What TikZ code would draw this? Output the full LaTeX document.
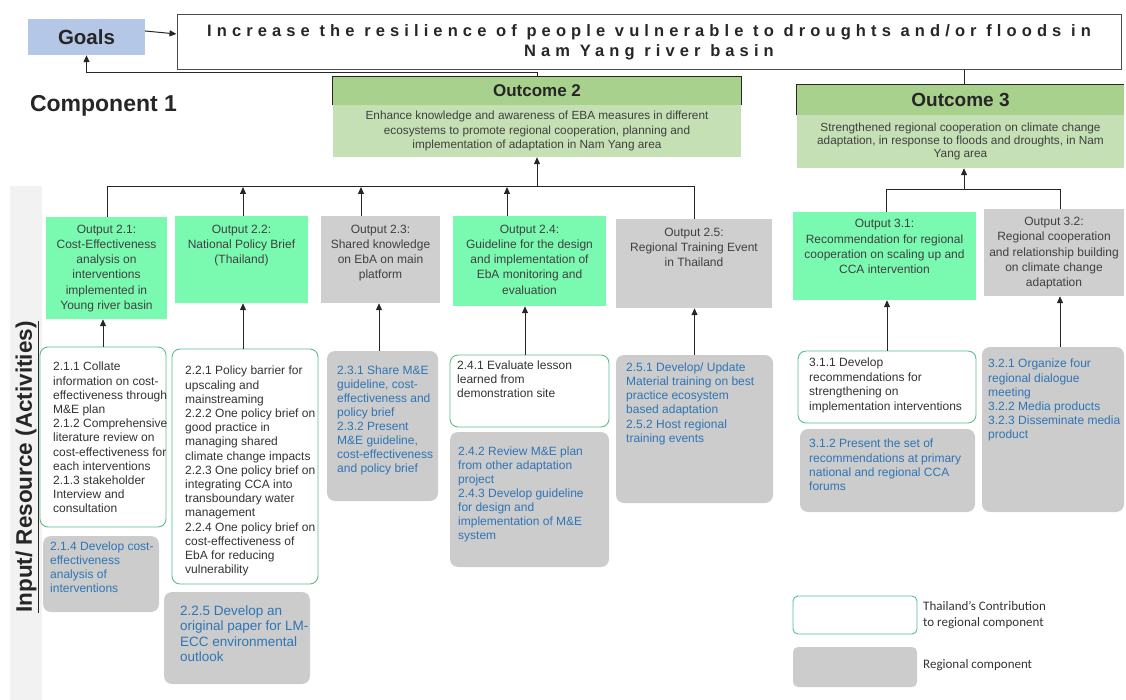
\documentclass[tikz,border=0pt]{standalone}
\usepackage{fontspec}
\setmainfont{Liberation Sans}
\newfontfamily\goalfont[LetterSpace=31]{Liberation Sans}
\newfontfamily\legendfont{Carlito}
\usetikzlibrary{arrows.meta}

\definecolor{goalsblue}{RGB}{180,199,231}
\definecolor{headgreen}{RGB}{169,209,142}
\definecolor{bodygreen}{RGB}{197,224,180}
\definecolor{mint}{RGB}{122,250,176}
\definecolor{outgray}{RGB}{208,207,207}
\definecolor{actgray}{RGB}{204,204,204}
\definecolor{actline}{RGB}{90,190,140}
\definecolor{actblue}{RGB}{46,117,182}
\definecolor{stripgray}{RGB}{242,242,242}
\definecolor{textgray}{RGB}{64,64,64}

\begin{document}
\begin{tikzpicture}[x=1pt, y=-1pt]
    % Node styles
    \tikzstyle{none}=[inner sep=0mm]
    \tikzstyle{goals box}=[fill=goalsblue, shape=rectangle, minimum width=117pt, minimum height=36pt, font=\bfseries\fontsize{20.5}{24}\selectfont, text=black!85]
    \tikzstyle{goal box}=[fill=white, draw=black!70, line width=1pt, shape=rectangle, minimum width=944pt, minimum height=55pt, align=center, font=\goalfont\bfseries\fontsize{16.5}{20.5}\selectfont, text=black!85]
    \tikzstyle{head box}=[fill=headgreen, shape=rectangle, inner sep=0mm, text=black!85]
    \tikzstyle{body box}=[fill=bodygreen, shape=rectangle, inner sep=0mm, align=center, text=textgray]
    \tikzstyle{green box}=[fill=mint, shape=rectangle]
    \tikzstyle{gray box}=[fill=outgray, shape=rectangle]
    \tikzstyle{white act}=[fill=white, draw=actline, line width=0.9pt, shape=rectangle, rounded corners=8pt]
    \tikzstyle{gray act}=[fill=actgray, shape=rectangle, rounded corners=8pt]
    \tikzstyle{out text}=[inner sep=0mm, anchor=north, align=center, font=\fontsize{12}{15.3}\selectfont, text=textgray]
    \tikzstyle{act text}=[inner sep=0mm, anchor=north west, align=left, font=\fontsize{12}{14.2}\selectfont, text=black!80]
    \tikzstyle{blue text}=[act text, text=actblue]
    % Edge styles
    \tikzstyle{line}=[draw=black!85, line width=1pt]
    \tikzstyle{arrow}=[line, -{Triangle[length=7pt, width=6pt]}]

    \useasboundingbox (0, 0) rectangle (1126, 700);

    % left strip
    \node [fill=stripgray, minimum width=32pt, minimum height=514pt] (strip) at (26, 443) {};
    \node [rotate=90, font=\bfseries\fontsize{22.5}{25}\selectfont, text=black!85] (side) at (27, 467) {\underline{Input/ Resource (Activities)}};

    % goal row
    \node [style=goals box] (goals) at (86.5, 37) {Goals};
    \node [style=goal box] (goal) at (649, 42.5) {Increase the resilience of people vulnerable to droughts and/or floods in\\Nam Yang river basin};
    \node [font=\bfseries\fontsize{23}{26}\selectfont, text=black!85] (comp) at (103.5, 106) {Component 1};

    % outcomes
    \node [style=head box, minimum width=408pt, minimum height=28pt, font=\bfseries\fontsize{17}{20}\selectfont] (oc2h) at (537, 91) {Outcome 2};
    \node [style=body box, minimum width=408pt, minimum height=52pt, font=\fontsize{11.8}{14.7}\selectfont] (oc2b) at (537, 131) {Enhance knowledge and awareness of EBA measures in different\\ecosystems to promote regional cooperation, planning and\\implementation of adaptation in Nam Yang area};
    \node [style=head box, minimum width=327pt, minimum height=30pt, font=\bfseries\fontsize{19}{22}\selectfont] (oc3h) at (960.5, 100) {Outcome 3};
    \node [style=body box, minimum width=327pt, minimum height=53pt, font=\fontsize{11.8}{13.1}\selectfont] (oc3b) at (960.5, 141.5) {Strengthened regional cooperation on climate change\\adaptation, in response to floods and droughts, in Nam\\Yang area};
    \draw [style=line] (oc2h.south west) -- (oc2h.north west) -- (oc2h.north east) -- (oc2h.south east);
    \draw [style=line] (oc3h.south west) -- (oc3h.north west) -- (oc3h.north east);

    % outputs
    \node [style=green box, minimum width=121pt, minimum height=102pt] (o21) at (106.5, 268) {};
    \node [style=green box, minimum width=133pt, minimum height=87pt] (o22) at (241.5, 259.5) {};
    \node [style=gray box, minimum width=119pt, minimum height=87pt] (o23) at (380.5, 259.5) {};
    \node [style=green box, minimum width=153pt, minimum height=90pt] (o24) at (529.5, 261) {};
    \node [style=gray box, minimum width=156pt, minimum height=89pt] (o25) at (694, 263.5) {};
    \node [style=green box, minimum width=183pt, minimum height=88pt] (o31) at (884.5, 256) {};
    \node [style=gray box, minimum width=140pt, minimum height=87pt] (o32) at (1054, 252.5) {};

    \node [style=out text] (o21t) at (106.5, 224.5) {Output 2.1:\\Cost-Effectiveness\\analysis on\\interventions\\implemented in\\Young river basin};
    \node [style=out text] (o22t) at (241.5, 224.5) {Output 2.2:\\National Policy Brief\\(Thailand)};
    \node [style=out text] (o23t) at (380.5, 224.5) {Output 2.3:\\Shared knowledge\\on EbA on main\\platform};
    \node [style=out text] (o24t) at (529.5, 224.5) {Output 2.4:\\Guideline for the design\\and implementation of\\EbA monitoring and\\evaluation};
    \node [style=out text] (o25t) at (694, 227.8) {Output 2.5:\\Regional Training Event\\in Thailand};
    \node [style=out text] (o31t) at (884.5, 219.4) {Output 3.1:\\Recommendation for regional\\cooperation on scaling up and\\CCA intervention};
    \node [style=out text] (o32t) at (1054, 217) {Output 3.2:\\Regional cooperation\\and relationship building\\on climate change\\adaptation};

    % activities
    \node [style=white act, minimum width=126pt, minimum height=180pt] (a21) at (103, 437) {};
    \node [style=gray act, minimum width=116pt, minimum height=76pt] (a21r) at (101, 574) {};
    \node [style=white act, minimum width=146pt, minimum height=235pt] (a22) at (245, 466.5) {};
    \node [style=gray act, minimum width=146pt, minimum height=92pt] (a22r) at (237, 638) {};
    \node [style=gray act, minimum width=111pt, minimum height=150pt] (a23r) at (382.5, 426) {};
    \node [style=white act, minimum width=159pt, minimum height=72pt] (a24) at (529.5, 391) {};
    \node [style=gray act, minimum width=159pt, minimum height=135pt] (a24r) at (529.5, 499.5) {};
    \node [style=gray act, minimum width=157pt, minimum height=148pt] (a25r) at (694.5, 429) {};
    \node [style=white act, minimum width=178pt, minimum height=72pt] (a31) at (887, 387) {};
    \node [style=gray act, minimum width=175pt, minimum height=83pt] (a31r) at (887.5, 470.5) {};
    \node [style=gray act, minimum width=142pt, minimum height=165pt] (a32r) at (1053, 429.5) {};

    \node [style=act text] (a21t) at (53, 362) {2.1.1 Collate\\information on cost-\\effectiveness through\\M\&E plan\\2.1.2 Comprehensive\\literature review on\\cost-effectiveness for\\each interventions\\2.1.3 stakeholder\\Interview and\\consultation};
    \node [style=blue text] (a21rt) at (50, 541.5) {2.1.4 Develop cost-\\effectiveness\\analysis of\\interventions};
    \node [style=act text] (a22t) at (185, 366) {2.2.1 Policy barrier for\\upscaling and\\mainstreaming\\2.2.2 One policy brief on\\good practice in\\managing shared\\climate change impacts\\2.2.3 One policy brief on\\integrating CCA into\\transboundary water\\management\\2.2.4 One policy brief on\\cost-effectiveness of\\EbA for reducing\\vulnerability};
    \node [style=blue text, font=\fontsize{13.5}{15.5}\selectfont] (a22rt) at (180, 605.4) {2.2.5 Develop an\\original paper for LM-\\ECC environmental\\outlook};
    \node [style=blue text, font=\fontsize{12}{13.95}\selectfont] (a23rt) at (337, 366) {2.3.1 Share M\&E\\guideline, cost-\\effectiveness and\\policy brief\\2.3.2 Present\\M\&E guideline,\\cost-effectiveness\\and policy brief};
    \node [style=act text] (a24t) at (457, 360.5) {2.4.1 Evaluate lesson\\learned from\\demonstration site};
    \node [style=blue text, font=\fontsize{12}{13.9}\selectfont] (a24rt) at (458, 447) {2.4.2 Review M\&E plan\\from other adaptation\\project\\2.4.3 Develop guideline\\for design and\\implementation of M\&E\\system};
    \node [style=blue text] (a25rt) at (626, 362.5) {2.5.1 Develop/ Update\\Material training on best\\practice ecosystem\\based adaptation\\2.5.2 Host regional\\training events};
    \node [style=act text, font=\fontsize{12}{14.5}\selectfont] (a31t) at (809, 358) {3.1.1 Develop\\recommendations for\\strengthening on\\implementation interventions};
    \node [style=blue text, font=\fontsize{12}{14.3}\selectfont] (a31rt) at (809, 439) {3.1.2 Present the set of\\recommendations at primary\\national and regional CCA\\forums};
    \node [style=blue text] (a32rt) at (988, 359) {3.2.1 Organize four\\regional dialogue\\meeting\\3.2.2 Media products\\3.2.3 Disseminate media\\product};

    % legend
    \node [style=white act, rounded corners=5pt, minimum width=124pt, minimum height=38pt] (lw) at (855, 615) {};
    \node [style=gray act, rounded corners=5pt, minimum width=124pt, minimum height=40pt] (lg) at (855, 667) {};
    \node [anchor=west, inner sep=0mm, align=left, font=\legendfont\fontsize{13}{16.7}\selectfont, text=black!80] (lwt) at (923, 615) {Thailand’s Contribution\\to regional component};
    \node [anchor=west, inner sep=0mm, font=\legendfont\fontsize{13}{16.7}\selectfont, text=black!80] (lgt) at (923, 665) {Regional component};

    % bus points
    \node [style=none] (b21) at (107, 187) {};
    \node [style=none] (b22) at (243, 187) {};
    \node [style=none] (b23) at (361, 187) {};
    \node [style=none] (b2) at (537, 187) {};
    \node [style=none] (b24) at (507, 187) {};
    \node [style=none] (b25) at (694, 187) {};
    \node [style=none] (b31) at (886, 190) {};
    \node [style=none] (b3) at (964, 190) {};
    \node [style=none] (b32) at (1060, 190) {};
    \node [style=none] (ret) at (537, 73) {};

    % goal connectors
    \draw [style=arrow] ([yshift=6pt]goals.east) to ([yshift=8.5pt]goal.west);
    \draw [style=arrow] (oc2h.north -| ret) to (ret.center) -| (goals.south);
    \draw [style=line] (goal.south -| b3) to (oc3h.north -| b3);

    % output connectors
    \draw [style=line] (o21.north -| b21) to (b21.center) to (b25.center) to (o25.north -| b25);
    \draw [style=arrow] (b2.center) to (oc2b.south -| b2);
    \draw [style=arrow] (o22.north -| b22) to (b22.center);
    \draw [style=arrow] (o23.north -| b23) to (b23.center);
    \draw [style=arrow] (o24.north -| b24) to (b24.center);
    \draw [style=line] (o31.north -| b31) to (b31.center) to (b32.center) to (o32.north -| b32);
    \draw [style=arrow] (b3.center) to (oc3b.south -| b3);

    % activity connectors
    \draw [style=arrow] (a21.north) to (a21.north |- o21.south);
    \draw [style=arrow] ([xshift=-2pt]a22.north) to ([xshift=-2pt]a22.north |- o22.south);
    \draw [style=arrow] ([xshift=-3.5pt]a23r.north) to ([xshift=-3.5pt]a23r.north |- o23.south);
    \draw [style=arrow] ([xshift=-4.5pt]a24.north) to ([xshift=-4.5pt]a24.north |- o24.south);
    \draw [style=arrow] (a25r.north) to (a25r.north |- o25.south);
    \draw [style=arrow] (a31.north) to (a31.north |- o31.south);
    \draw [style=arrow] ([xshift=7pt]a32r.north) to ([xshift=7pt]a32r.north |- o32.south);
\end{tikzpicture}
\end{document}
